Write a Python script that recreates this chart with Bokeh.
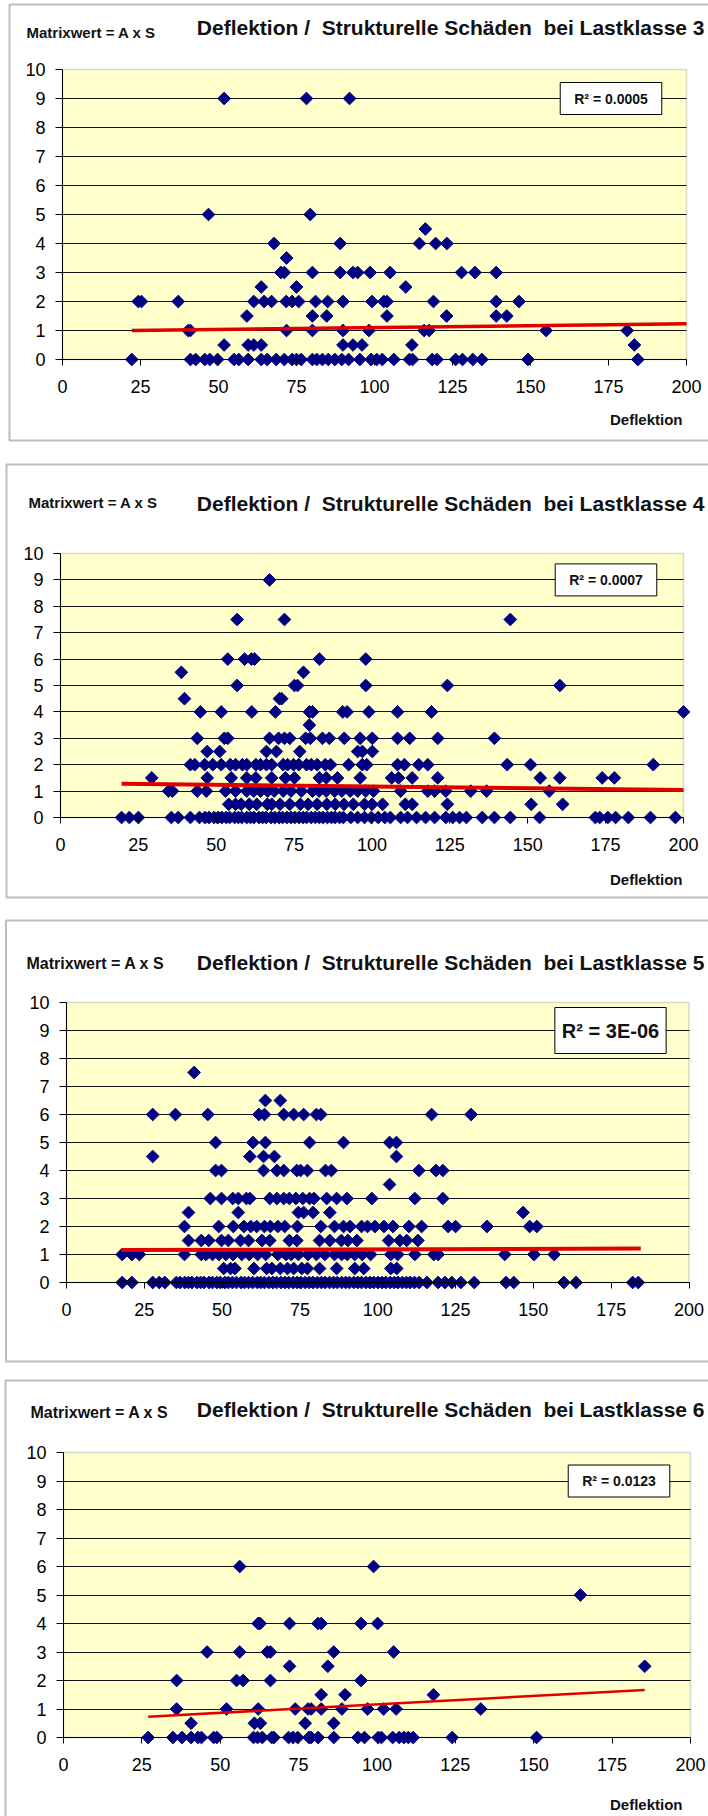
import math
from bokeh.plotting import figure
from bokeh.models import Range1d, FixedTicker, Label, BoxAnnotation
from bokeh.layouts import column
from bokeh.embed import file_html
from bokeh.resources import INLINE

# ---------------- data ----------------
X_TICKS = [0, 25, 50, 75, 100, 125, 150, 175, 200]
Y_TICKS = [0, 1, 2, 3, 4, 5, 6, 7, 8, 9, 10]
TITLES = ["Deflektion /\u00a0 Strukturelle Schäden\u00a0 bei Lastklasse 3",
          "Deflektion /\u00a0 Strukturelle Schäden\u00a0 bei Lastklasse 4",
          "Deflektion /\u00a0 Strukturelle Schäden\u00a0 bei Lastklasse 5",
          "Deflektion /\u00a0 Strukturelle Schäden\u00a0 bei Lastklasse 6"]
SUBTITLE = "Matrixwert = A x S"
XLABEL = "Deflektion"
R2_TEXTS = ["R² = 0.0005", "R² = 0.0007", "R² = 3E-06", "R² = 0.0123"]

# Lastklasse 3 : x values (Deflektion) per Matrixwert level
lk3_9 = [51.8, 78.2, 92.0]
lk3_5 = [46.8, 79.4]
lk3_45 = [116.3]
lk3_4 = [67.8, 89.0, 114.4, 119.6, 123.2]
lk3_35 = [71.8]
lk3_3 = [70.0, 71.1, 80.1, 89.0, 93.1, 94.6, 98.6, 105.0, 127.9, 132.2, 139.0]
lk3_25 = [63.7, 75.0, 110.0]
lk3_2 = [24.3, 25.3, 37.1, 61.3, 64.6, 67.0, 71.7, 73.6, 75.7, 81.1, 85.0, 89.9,
         99.2, 103.0, 104.0, 118.9, 139.0, 146.3]
lk3_15 = [59.1, 80.1, 84.7, 104.0, 123.1, 139.0, 142.4]
lk3_1 = [40.3, 41.0, 71.8, 80.1, 89.9, 98.2, 115.9, 117.5, 155.0, 181.0]
lk3_05 = [51.8, 59.5, 61.3, 63.7, 89.9, 93.1, 96.0, 112.0, 183.3]
lk3_0 = [22.2, 41.0, 42.7, 45.6, 47.2, 49.7, 55.0, 56.5, 59.5, 63.7, 65.6, 68.5,
         71.1, 73.6, 75.0, 76.5, 80.1, 81.5, 83.3, 85.2, 87.3, 89.5, 91.7, 95.3,
         98.9, 100.7, 102.5, 106.2, 111.2, 112.2, 118.5, 120.0, 126.0, 128.2,
         131.5, 134.4, 149.2, 184.4]
lk3_trend_x = [22.2, 200.0]
lk3_trend_y = [1.0, 1.23]

# Lastklasse 4
lk4_9 = [67.1]
lk4_75 = [56.7, 71.9, 144.4]
lk4_6 = [53.7, 59.1, 61.3, 62.3, 83.1, 98.0]
lk4_55 = [38.8, 78.0]
lk4_5 = [56.7, 75.1, 76.1, 98.0, 124.2, 160.3]
lk4_45 = [39.8, 70.3, 71.0]
lk4_4 = [44.9, 51.6, 61.4, 69.0, 79.9, 80.9, 90.6, 92.0, 99.0, 108.2, 119.1, 200.0]
lk4_35 = [79.9]
lk4_3 = [43.9, 52.6, 53.7, 67.1, 70.0, 71.9, 73.6, 78.7, 80.2, 84.1, 86.3, 91.1,
         96.2, 100.1, 108.2, 112.1, 121.1, 139.3]
lk4_25 = [47.1, 51.1, 66.1, 69.3, 76.8, 95.4, 96.9, 100.1]
lk4_2 = [41.7, 43.1, 46.3, 48.9, 51.6, 54.5, 56.2, 58.4, 59.8, 62.7, 64.2, 66.1,
         67.8, 71.5, 72.9, 74.8, 76.5, 79.0, 80.5, 82.4, 85.0, 86.7, 92.5, 96.9,
         98.3, 108.2, 110.4, 115.0, 117.9, 143.4, 150.9, 190.3]
lk4_15 = [29.3, 47.1, 54.8, 59.8, 62.7, 67.8, 72.2, 75.1, 83.1, 85.3, 88.9, 96.2,
          106.3, 108.5, 112.9, 121.1, 154.0, 160.3, 173.9, 177.8]
lk4_1 = [34.7, 35.9, 43.9, 46.8, 53.0, 56.2, 59.8, 62.0, 64.2, 66.5, 68.6, 71.5,
         74.0, 77.3, 80.9, 83.0, 85.3, 88.0, 90.3, 93.0, 95.4, 98.0, 100.5, 109.2,
         117.9, 120.1, 123.7, 131.7, 136.8, 156.9]
lk4_05 = [54.0, 56.2, 58.0, 60.6, 63.0, 66.4, 67.8, 70.5, 73.6, 77.0, 79.5, 82.4,
          85.5, 88.2, 91.0, 94.0, 97.6, 100.0, 103.4, 110.7, 112.9, 124.2, 151.1, 161.2]
lk4_0 = [19.6, 22.1, 25.0, 35.6, 37.8, 41.7, 44.6, 46.4, 47.7, 49.3, 50.6, 51.8,
         53.2, 54.3, 55.9, 57.1, 58.2, 59.8, 61.0, 62.1, 63.7, 64.9, 66.0, 67.6,
         68.8, 70.2, 71.3, 72.7, 74.0, 75.2, 76.6, 77.9, 79.0, 80.5, 81.8, 83.1,
         84.3, 85.7, 87.0, 88.1, 89.6, 90.8, 93.2, 95.4, 97.6, 99.8, 102.0, 104.1,
         105.9, 109.2, 111.4, 114.3, 117.2, 120.1, 123.7, 125.9, 128.1, 130.3,
         135.4, 139.3, 144.4, 153.8, 171.7, 173.1, 175.7, 178.2, 182.3, 189.4, 197.4]
lk4_trend_x = [19.6, 200.0]
lk4_trend_y = [1.28, 1.04]

# Lastklasse 5
lk5_75 = [41.0]
lk5_65 = [63.9, 68.7]
lk5_6 = [27.7, 35.0, 45.4, 61.8, 63.6, 69.8, 73.0, 76.2, 80.3, 81.7, 117.3, 130.0]
lk5_5 = [47.9, 59.9, 63.9, 78.1, 89.0, 103.8, 106.0]
lk5_45 = [27.7, 58.9, 63.3, 66.8, 106.0]
lk5_4 = [47.9, 49.8, 63.3, 67.6, 69.8, 74.0, 75.2, 77.4, 83.2, 85.1, 113.2, 118.7, 120.9]
lk5_35 = [103.8]
lk5_3 = [46.2, 49.8, 53.4, 55.2, 57.8, 58.9, 65.3, 67.6, 69.8, 71.6, 73.7, 75.9,
         78.1, 79.5, 83.6, 86.8, 90.1, 98.1, 111.9, 120.9]
lk5_25 = [39.2, 55.2, 74.5, 76.2, 79.2, 84.6, 146.7]
lk5_2 = [37.9, 48.9, 53.6, 57.0, 59.2, 61.1, 63.6, 65.5, 67.9, 70.1, 74.2, 81.7,
         86.1, 89.0, 91.1, 94.8, 96.7, 99.1, 102.0, 104.9, 110.0, 114.1, 122.6,
         125.0, 135.1, 148.8, 151.1]
lk5_15 = [39.2, 43.3, 45.7, 49.8, 52.0, 55.9, 58.5, 62.8, 65.3, 71.6, 74.0, 81.3,
          84.6, 88.3, 90.4, 93.3, 103.5, 107.1, 109.3, 112.9]
lk5_1 = [17.9, 21.0, 23.4, 37.9, 43.3, 44.8, 46.9, 49.0, 51.2, 53.5, 56.3, 58.7,
         61.4, 64.0, 67.9, 70.5, 72.2, 74.5, 77.6, 80.3, 83.0, 86.1, 88.4, 90.2,
         92.6, 95.0, 97.7, 104.2, 106.4, 111.9, 118.0, 119.4, 140.8, 150.2, 156.7]
lk5_05 = [50.5, 52.7, 54.1, 60.2, 64.3, 66.0, 68.7, 71.0, 73.0, 75.6, 77.4, 81.3,
          86.8, 92.6, 95.5, 104.2, 106.1]
lk5_0 = [17.9, 21.0, 27.7, 29.8, 31.6, 35.3, 36.5, 38.0, 39.2, 40.3, 41.9, 43.1,
         44.2, 45.8, 46.9, 48.3, 49.4, 50.9, 52.0, 53.3, 54.6, 56.1, 57.2, 58.5,
         59.8, 61.3, 62.4, 63.6, 65.0, 66.3, 67.5, 68.9, 70.2, 71.4, 72.8, 74.1,
         75.3, 76.7, 78.0, 79.2, 80.6, 81.9, 83.1, 84.5, 85.8, 87.0, 88.4, 89.7,
         90.9, 92.3, 93.6, 94.8, 96.2, 97.5, 98.7, 100.1, 101.4, 102.6, 104.0,
         105.3, 106.5, 107.9, 109.2, 110.4, 111.8, 113.3, 115.8, 119.4, 121.6,
         123.8, 126.7, 131.0, 141.2, 143.7, 159.8, 163.7, 181.9, 183.7]
lk5_trend_x = [17.6, 184.5]
lk5_trend_y = [1.16, 1.21]

# Lastklasse 6
lk6_6 = [56.2, 98.9]
lk6_5 = [164.9]
lk6_4 = [62.1, 62.7, 72.1, 81.2, 82.2, 94.9, 100.2]
lk6_3 = [45.8, 56.2, 65.0, 66.0, 86.2, 105.3]
lk6_25 = [72.1, 84.3, 185.4]
lk6_2 = [36.1, 55.2, 57.3, 66.0, 94.9]
lk6_15 = [82.2, 89.8, 118.0]
lk6_1 = [36.1, 52.0, 62.1, 73.9, 78.0, 79.0, 82.2, 88.8, 97.0, 102.1, 106.1, 133.1]
lk6_05 = [40.7, 60.9, 62.8, 77.1, 86.2]
lk6_0 = [27.0, 34.9, 37.8, 40.7, 42.9, 44.0, 47.9, 48.9, 60.6, 61.9, 63.4, 66.4,
         67.1, 71.8, 73.2, 74.7, 78.3, 79.0, 81.2, 86.2, 93.9, 96.0, 100.4, 101.4,
         105.0, 107.1, 108.6, 110.0, 111.5, 124.0, 150.9]
lk6_trend_x = [27.0, 185.4]
lk6_trend_y = [0.73, 1.67]

# ---------------- styling / layout (page pixels) ----------------
FONT = "Liberation Sans"
NAVY = "#000080"
RED = "#E00000"
YELLOW = "#FFFFCC"
W = 708
GRID_TICKS = [1, 2, 3, 4, 5, 6, 7, 8, 9]


def collect(groups):
    xs, ys = [], []
    for level, xl in groups:
        xs.extend(xl)
        ys.extend([level] * len(xl))
    return xs, ys


def panel(groups, tx, ty, title, r2, g):
    top, h = g["top"], g["h"]
    X0, X200, Y10, Y0 = g["frame"]
    sx = (X200 - X0) / 200.0
    sy = (Y0 - Y10) / 10.0

    def dx(px):
        return (px - X0) / sx

    def dy(py):
        return (Y0 - py) / sy

    p = figure(width=W, height=h,
               x_range=Range1d(dx(0), dx(W)), y_range=Range1d(dy(top + h), dy(top)),
               output_backend="svg", toolbar_location=None, min_border=0,
               background_fill_color="white", border_fill_color="white",
               outline_line_color=None)
    # plot area
    p.add_layout(BoxAnnotation(left=0, right=200, bottom=0, top=10,
                               fill_color=YELLOW, fill_alpha=1.0,
                               line_color="#808080", line_width=1.5, level="image"))
    # chart border
    bl, bt, bb = g["border"]
    p.add_layout(BoxAnnotation(left=dx(bl), right=dx(W + 40), top=dy(bt), bottom=dy(bb),
                               fill_color=None, fill_alpha=0,
                               line_color="#262626", line_width=2))

    for ax in (p.xaxis[0], p.yaxis[0]):
        ax.fixed_location = 0
        ax.axis_line_color = "black"
        ax.axis_line_width = 1
        ax.major_tick_line_color = "black"
        ax.major_tick_in = 0
        ax.minor_tick_in = 0
        ax.minor_tick_out = 0
        ax.major_label_text_font = FONT
        ax.major_label_text_font_size = "18px"
        ax.major_label_text_color = "black"
    p.xaxis.ticker = FixedTicker(ticks=X_TICKS)
    p.xaxis.bounds = (0, 200)
    p.xaxis.major_tick_out = 6
    p.xaxis.major_label_standoff = 14
    p.yaxis.ticker = FixedTicker(ticks=Y_TICKS)
    p.yaxis.bounds = (0, 10)
    p.yaxis.major_tick_out = 7
    p.yaxis.major_label_standoff = 10
    p.xgrid.visible = False
    p.ygrid.ticker = FixedTicker(ticks=GRID_TICKS)
    p.ygrid.grid_line_color = "#111111"
    p.ygrid.grid_line_width = 1
    try:
        p.ygrid[0].cross_bounds = (0, 200)
    except Exception:
        p.ygrid.visible = False
        p.segment(x0=[0] * len(GRID_TICKS), y0=GRID_TICKS,
                  x1=[200] * len(GRID_TICKS), y1=GRID_TICKS,
                  line_color="#111111", line_width=1, level="underlay")

    xs, ys = collect(groups)
    p.scatter(xs, ys, marker="square", angle=math.pi / 4, size=9,
              fill_color=NAVY, line_color=NAVY, line_width=1)
    p.line(tx, ty, line_color=RED, line_width=g["lw"])

    p.add_layout(Label(x=dx(g["sub"][0]), y=dy(g["sub"][1]), text=SUBTITLE,
                       text_font=FONT, text_font_style="bold",
                       text_font_size=g["subfs"], text_align="left",
                       text_baseline="middle", text_color="#111111"))
    p.add_layout(Label(x=dx(704), y=dy(g["tit"]), text=title,
                       text_font=FONT, text_font_style="bold",
                       text_font_size="21px", text_align="right",
                       text_baseline="middle", text_color="#111111"))
    p.add_layout(Label(x=dx(g["r2"]), y=9, text=r2,
                       text_font=FONT, text_font_style="bold",
                       text_font_size=g["r2fs"], text_align="center",
                       text_baseline="middle", text_color="#111111",
                       background_fill_color="white", border_line_color="black",
                       border_line_width=1, padding=g["pad"]))
    if g.get("xl") is not None:
        p.add_layout(Label(x=dx(682), y=dy(g["xl"][0]), text=XLABEL,
                           text_font=FONT, text_font_style="bold",
                           text_font_size="15px", text_align="right",
                           text_baseline=g["xl"][1], text_color="#111111"))
    return p


p1 = panel([(9, lk3_9), (5, lk3_5), (4.5, lk3_45), (4, lk3_4), (3.5, lk3_35),
            (3, lk3_3), (2.5, lk3_25), (2, lk3_2), (1.5, lk3_15), (1, lk3_1),
            (0.5, lk3_05), (0, lk3_0)],
           lk3_trend_x, lk3_trend_y, TITLES[0], R2_TEXTS[0],
           dict(top=0, h=452, frame=(62, 686, 69, 359), border=(9, 4, 440),
                lw=3.5, sub=(26, 32), tit=27, r2=610.5, r2fs="14px", pad=(14, 8),
                subfs="15px", xl=(419, "middle")))

p2 = panel([(9, lk4_9), (7.5, lk4_75), (6, lk4_6), (5.5, lk4_55), (5, lk4_5),
            (4.5, lk4_45), (4, lk4_4), (3.5, lk4_35), (3, lk4_3), (2.5, lk4_25),
            (2, lk4_2), (1.5, lk4_15), (1, lk4_1), (0.5, lk4_05), (0, lk4_0)],
           lk4_trend_x, lk4_trend_y, TITLES[1], R2_TEXTS[1],
           dict(top=452, h=456, frame=(60, 683, 553, 817), border=(6, 464, 897),
                lw=4, sub=(28, 502), tit=503, r2=605.5, r2fs="14px", pad=(14, 8),
                subfs="15px", xl=(879, "middle")))

p3 = panel([(7.5, lk5_75), (6.5, lk5_65), (6, lk5_6), (5, lk5_5), (4.5, lk5_45),
            (4, lk5_4), (3.5, lk5_35), (3, lk5_3), (2.5, lk5_25), (2, lk5_2),
            (1.5, lk5_15), (1, lk5_1), (0.5, lk5_05), (0, lk5_0)],
           lk5_trend_x, lk5_trend_y, TITLES[2], R2_TEXTS[2],
           dict(top=908, h=463, frame=(66, 688.5, 1002, 1282), border=(5.5, 920, 1361),
                lw=4, sub=(26, 963), tit=962, r2=610, r2fs="20px", pad=(7, 12),
                subfs="16px", xl=None))

p4 = panel([(6, lk6_6), (5, lk6_5), (4, lk6_4), (3, lk6_3), (2.5, lk6_25),
            (2, lk6_2), (1.5, lk6_15), (1, lk6_1), (0.5, lk6_05), (0, lk6_0)],
           lk6_trend_x, lk6_trend_y, TITLES[3], R2_TEXTS[3],
           dict(top=1371, h=445, frame=(63, 690, 1452, 1737), border=(5, 1380, 1840),
                lw=2.5, sub=(30, 1412), tit=1409, r2=618.5, r2fs="14px", pad=(14, 8),
                subfs="16px", xl=(1812, "bottom")))

layout = column(p1, p2, p3, p4)

open("out.html", "w").write(file_html(layout, INLINE))
